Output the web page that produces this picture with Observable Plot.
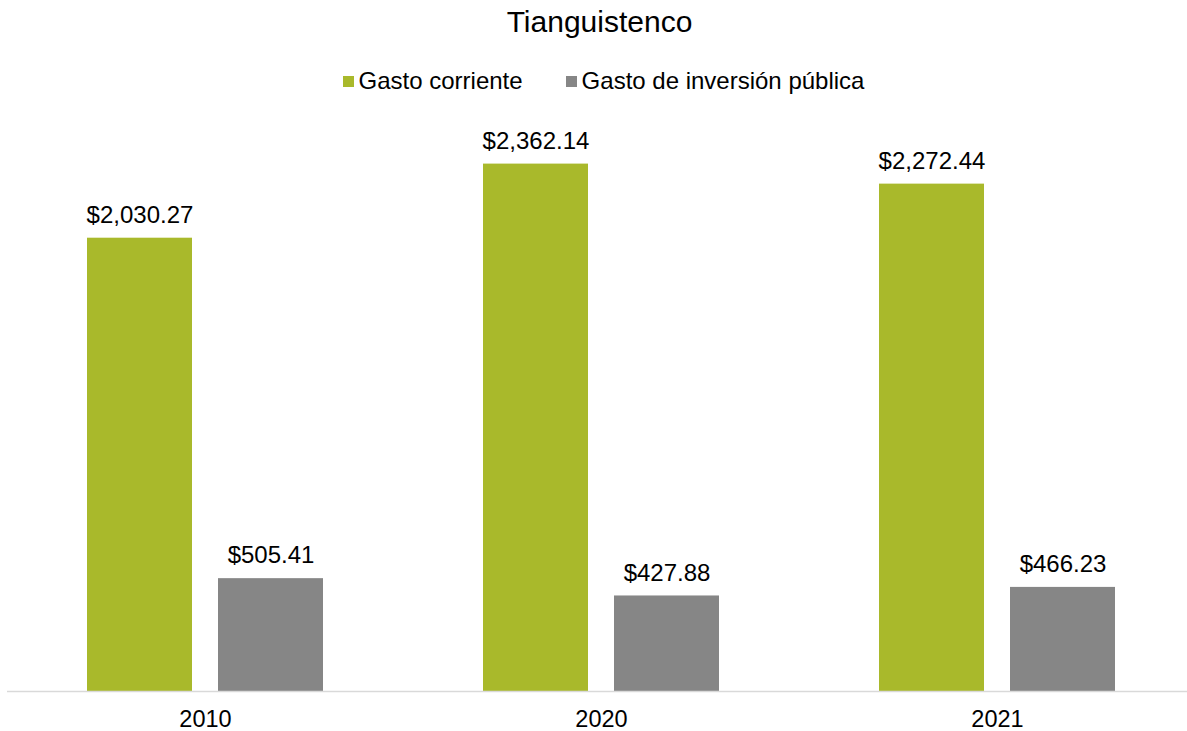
<!DOCTYPE html>
<html>
<head>
<meta charset="utf-8">
<script src="https://cdn.jsdelivr.net/npm/d3@7"></script>
<script src="https://cdn.jsdelivr.net/npm/@observablehq/plot@0.6"></script>
<style>
  body { margin: 0; background: #fff; font-family: "Liberation Sans", Arial, sans-serif; width: 1187px; height: 731px; overflow: hidden; }
  #title { height: 43px; line-height: 43px; font-size: 30px; text-align: center; color: #000; padding-left: 12px; }
  #legend { margin-top: 18px; height: 40px; line-height: 40px; font-size: 24px; display: flex; justify-content: center; gap: 43px; color: #000; padding-left: 20px; }
  #legend .item { display: flex; align-items: center; }
  #legend .sw { width: 11px; height: 11px; margin-right: 5px; }
  #chart svg { display: block; }
</style>
</head>
<body>
<div id="title">Tianguistenco</div>
<div id="legend"></div>
<div id="chart"></div>
<script>
const years = ["2010", "2020", "2021"];
const series = ["Gasto corriente", "Gasto de inversión pública"];
const gastoCorriente = [2030.27, 2362.14, 2272.44];
const gastoInversion = [505.41, 427.88, 466.23];
const colors = ["#A9B92B", "#868686"];

const data = years.flatMap((y, i) => [
  {year: y, serie: series[0], value: gastoCorriente[i]},
  {year: y, serie: series[1], value: gastoInversion[i]}
]);

const legend = document.getElementById("legend");
series.forEach((s, i) => {
  const item = document.createElement("div");
  item.className = "item";
  const sw = document.createElement("span");
  sw.className = "sw";
  sw.style.background = colors[i];
  const t = document.createElement("span");
  t.textContent = s;
  item.appendChild(sw);
  item.appendChild(t);
  legend.appendChild(item);
});

const fmt = d3.format(",.2f");

const chart = Plot.plot({
  width: 1187,
  height: 630,
  marginTop: 0,
  marginBottom: 40,
  marginLeft: 0,
  marginRight: 0,
  style: {fontFamily: "'Liberation Sans', Arial, sans-serif", fontSize: "23.5px", color: "#000", background: "#fff"},
  fx: {domain: years, range: [6.5, 1194.5], padding: 0, label: null, axis: "bottom", tickSize: 0, tickPadding: 19},
  x: {domain: series, axis: null, paddingInner: 0.195, paddingOuter: 0.606},
  y: {domain: [0, 2642.5], axis: null},
  color: {domain: series, range: colors},
  marks: [
    Plot.barY(data, {fx: "year", x: "serie", y: "value", fill: "serie"}),
    Plot.ruleY([0], {stroke: "#d9d9d9", strokeWidth: 1.5}),
    Plot.text(data, {fx: "year", x: "serie", y: "value", text: d => "$" + fmt(d.value), dy: -23, fontSize: 24, fill: "#000"})
  ]
});
document.getElementById("chart").appendChild(chart);
</script>
</body>
</html>
